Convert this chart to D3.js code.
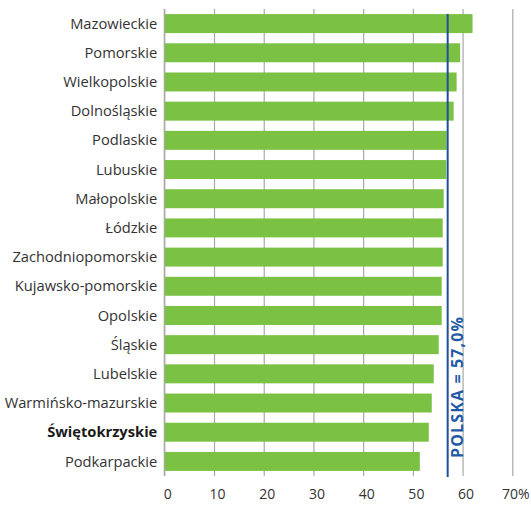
<!DOCTYPE html>
<html>
<head>
<meta charset="utf-8">
<script src="https://cdn.jsdelivr.net/npm/d3@7"></script>
<style>
  html, body { margin: 0; padding: 0; background: #fff; }
  svg { display: block; font-family: "Open Sans", "Noto Sans", sans-serif; }
</style>
</head>
<body>
<svg id="chart" width="531" height="505"></svg>
<script>
// Regions (województwa) and their values, in %
const regions = [
  "Mazowieckie", "Pomorskie", "Wielkopolskie", "Dolnośląskie", "Podlaskie",
  "Lubuskie", "Małopolskie", "Łódzkie", "Zachodniopomorskie", "Kujawsko-pomorskie",
  "Opolskie", "Śląskie", "Lubelskie", "Warmińsko-mazurskie", "Świętokrzyskie",
  "Podkarpackie"
];
const values = [62.0, 59.5, 58.8, 58.2, 56.8, 56.7, 56.2, 56.0, 56.0, 55.8, 55.8, 55.2, 54.2, 53.8, 53.2, 51.4];
const highlighted = ["Świętokrzyskie"];
const xTicks = [0, 10, 20, 30, 40, 50, 60, 70];
const nationalValue = 57.0;
const nationalLabel = "POLSKA = 57,0%";

const svg = d3.select("#chart");
const margin = { left: 164.3, right: 18.7, top: 9, bottom: 29 };
const W = 531, H = 505;

const x = d3.scaleLinear().domain([0, 70]).range([margin.left, W - margin.right]);
const y = d3.scaleBand().domain(regions).range([margin.top, H - margin.bottom]).paddingInner(0.35).paddingOuter(0.175);

// vertical gridlines + tick labels
const axis = svg.append("g")
  .attr("transform", `translate(0,${H - margin.bottom})`)
  .call(d3.axisBottom(x).tickValues(xTicks).tickSize(-(H - margin.bottom - margin.top))
    .tickPadding(13).tickFormat(d => d === 70 ? "70%" : d));
axis.select(".domain").remove();
axis.selectAll(".tick line").attr("stroke", "#a8a8a8").attr("stroke-width", 1.2);
axis.selectAll(".tick text")
  .attr("fill", "#333")
  .attr("font-size", 14)
  .attr("dx", 3)
  .attr("font-family", "'Open Sans', sans-serif");

// bars
svg.append("g").selectAll("rect")
  .data(regions)
  .join("rect")
  .attr("x", x(0))
  .attr("y", d => y(d))
  .attr("width", (d, i) => x(values[i]) - x(0))
  .attr("height", y.bandwidth())
  .attr("fill", "#7bc143");

// left axis line
svg.append("line")
  .attr("x1", x(0)).attr("x2", x(0))
  .attr("y1", margin.top).attr("y2", H - margin.bottom)
  .attr("stroke", "#a8a8a8").attr("stroke-width", 1.2);

// region labels
svg.append("g").selectAll("text")
  .data(regions)
  .join("text")
  .attr("x", x(0) - 7)
  .attr("y", d => y(d) + y.bandwidth() / 2)
  .attr("dy", "0.35em")
  .attr("text-anchor", "end")
  .attr("font-size", 14.7)
  .attr("font-weight", d => highlighted.includes(d) ? "bold" : "normal")
  .attr("fill", d => highlighted.includes(d) ? "#1a1a1a" : "#333")
  .text(d => d);

// national average line
const nx = x(nationalValue);
svg.append("line")
  .attr("x1", nx).attr("x2", nx)
  .attr("y1", y(regions[0])).attr("y2", H - margin.bottom + 1)
  .attr("stroke", "#1f4f99").attr("stroke-width", 2);

svg.append("text")
  .attr("transform", `translate(${nx + 15},458) rotate(-90)`)
  .attr("text-anchor", "start")
  .attr("font-size", 16)
  .attr("font-weight", "bold")
  .attr("fill", "#1f5aa6")
  .attr("textLength", 141)
  .attr("lengthAdjust", "spacing")
  .text(nationalLabel);
</script>
</body>
</html>
